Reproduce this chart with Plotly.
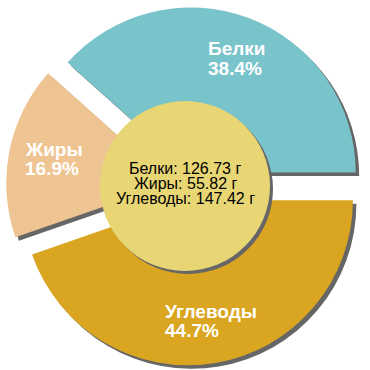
import math
import plotly.graph_objects as go

# ---- data ----
labels = ["Белки", "Жиры", "Углеводы"]
grams = [126.73, 55.82, 147.42]
colors = ["#79C3CB", "#EEC592", "#DAA520"]
center_lines = ["Белки: 126.73 г", "Жиры: 55.82 г", "Углеводы: 147.42 г"]

# ---- layout geometry (px) ----
W, H = 370, 370
cx, cy = 185.5, 186.0
R = 165.0
pull = 0.088
side = 2 * R * (1 + pull)
shadow_off = 3.5
shadow_col = "#666666"
font_family = "Liberation Sans, Arial, sans-serif"

total = sum(grams)
# plotly (counterclockwise): first slice ends at `rotation`; we want it to start at 3 o'clock
rotation = 90 - 360 * grams[0] / total


def dom(dx=0.0, dy=0.0):
    x0 = (cx + dx - side / 2) / W
    x1 = (cx + dx + side / 2) / W
    y0 = 1 - (cy + dy + side / 2) / H
    y1 = 1 - (cy + dy - side / 2) / H
    return dict(x=[x0, x1], y=[y0, y1])


fig = go.Figure()
common = dict(values=grams, labels=labels, sort=False, direction="counterclockwise",
              rotation=rotation, pull=[pull] * len(grams), textinfo="none",
              hoverinfo="skip", showlegend=False)
fig.add_trace(go.Pie(**common, domain=dom(shadow_off, shadow_off),
                     marker=dict(colors=[shadow_col] * len(grams), line=dict(width=0))))
fig.add_trace(go.Pie(**common, domain=dom(),
                     marker=dict(colors=colors, line=dict(width=0))))

# center circle with shadow
cr = 85.0
ccx, ccy = 185.0, 186.0
for off, col in [(3.0, shadow_col), (0.0, "#E8D675")]:
    fig.add_shape(type="circle", xref="paper", yref="paper",
                  x0=(ccx - cr + off) / W, x1=(ccx + cr + off) / W,
                  y0=1 - (ccy + cr + off) / H, y1=1 - (ccy - cr + off) / H,
                  fillcolor=col, line=dict(width=0), layer="above")

annotations = []
cum = 0.0
for lab, g in zip(labels, grams):
    frac = g / total
    mid = math.radians(360 * (cum + frac / 2))
    cum += frac
    pcx = cx + pull * R * math.cos(mid)
    pcy = cy - pull * R * math.sin(mid)
    lx = pcx + 0.74 * R * math.cos(mid)
    ly = pcy - 0.74 * R * math.sin(mid)
    pct = f"{frac * 100:.1f}%"
    maxlen = max(len(lab), len(pct))
    left = lx - 11.4 * maxlen / 2
    for txt, dy in [(lab, -9.7), (pct, 9.7)]:
        annotations.append(dict(x=left / W, y=1 - (ly + dy) / H, xref="paper", yref="paper",
                                text=f"<b>{txt}</b>", showarrow=False, xanchor="left",
                                yanchor="middle",
                                font=dict(family=font_family, size=19, color="white")))

for i, line in enumerate(center_lines):
    yy = 183.5 + (i - 1) * 15.5
    annotations.append(dict(x=ccx / W, y=1 - yy / H, xref="paper", yref="paper",
                            text=line, showarrow=False, xanchor="center", yanchor="middle",
                            font=dict(family=font_family, size=16, color="black")))

fig.update_layout(width=W, height=H, margin=dict(l=0, r=0, t=0, b=0),
                  paper_bgcolor="white", plot_bgcolor="white",
                  annotations=annotations)
fig.write_html("out.html", config={"displayModeBar": False},
               post_script="document.body.style.margin='0';")
